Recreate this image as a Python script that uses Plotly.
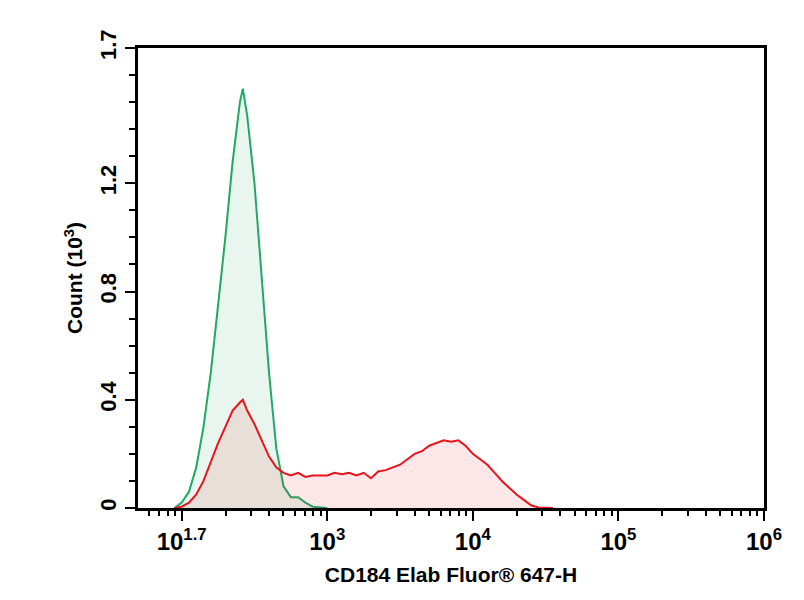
import math
import plotly.graph_objects as go

# Histogram data, x in log10 units
green_x = [1.95, 2.0, 2.05, 2.1, 2.15, 2.2, 2.25, 2.3, 2.35, 2.4, 2.42, 2.45, 2.5, 2.55, 2.6,
           2.65, 2.7, 2.75, 2.8, 2.85, 2.9, 3.0]
green_y = [0, 0.02, 0.06, 0.15, 0.3, 0.5, 0.75, 1.0, 1.28, 1.5, 1.55, 1.45, 1.2, 0.85, 0.5,
           0.22, 0.08, 0.04, 0.04, 0.02, 0.005, 0]

red_x = [1.95, 2.0, 2.05, 2.1, 2.15, 2.2, 2.25, 2.3, 2.35, 2.4, 2.42, 2.45, 2.5, 2.55, 2.6,
         2.65, 2.7, 2.75, 2.8, 2.85, 2.9, 2.95, 3.0, 3.05, 3.1, 3.15, 3.2, 3.25, 3.3, 3.35,
         3.4, 3.45, 3.5, 3.55, 3.6, 3.65, 3.7, 3.75, 3.8, 3.85, 3.9, 3.95, 4.0, 4.05, 4.1,
         4.15, 4.2, 4.25, 4.3, 4.35, 4.4, 4.45, 4.55]
red_y = [0, 0.005, 0.02, 0.05, 0.1, 0.17, 0.24, 0.3, 0.36, 0.39, 0.40, 0.36, 0.31, 0.25, 0.19,
         0.15, 0.13, 0.12, 0.13, 0.115, 0.12, 0.12, 0.12, 0.13, 0.125, 0.13, 0.12, 0.13, 0.11, 0.135,
         0.14, 0.15, 0.16, 0.18, 0.2, 0.21, 0.23, 0.24, 0.25, 0.245, 0.25, 0.23, 0.2, 0.18, 0.16,
         0.13, 0.1, 0.075, 0.05, 0.03, 0.01, 0.002, 0]

x_ticks = [2, 3, 4, 5, 6]
x_labels = ['<b>10<sup>1.7</sup></b>', '<b>10<sup>3</sup></b>', '<b>10<sup>4</sup></b>',
            '<b>10<sup>5</sup></b>', '<b>10<sup>6</sup></b>']
y_ticks = [0, 0.4, 0.8, 1.2, 1.7]
y_labels = ['<b>0</b>', '<b>0.4</b>', '<b>0.8</b>', '<b>1.2</b>', '<b>1.7</b>']

minor_x = []
for d in range(1, 6):
    for m in range(2, 10):
        v = d + math.log10(m)
        if 1.7 <= v <= 6:
            minor_x.append(v)

fig = go.Figure()
fig.add_trace(go.Scatter(x=green_x, y=green_y, mode='lines', fill='tozeroy',
                         line=dict(color='#22a865', width=2), fillcolor='rgba(34,168,101,0.10)'))
fig.add_trace(go.Scatter(x=red_x, y=red_y, mode='lines', fill='tozeroy',
                         line=dict(color='#e8141c', width=2), fillcolor='rgba(232,20,28,0.10)'))

fig.update_layout(
    width=804, height=600,
    margin=dict(l=130, r=48, t=40, b=100),
    plot_bgcolor='white', paper_bgcolor='white',
    showlegend=False,
    font=dict(family='Liberation Sans', size=22, color='black'),
    xaxis=dict(range=[1.7, 6], tickvals=x_ticks, ticktext=x_labels, showgrid=False, zeroline=False,
               showline=True, linecolor='black', linewidth=3, mirror=True,
               ticks='outside', ticklen=10, tickwidth=2, tickcolor='black',
               minor=dict(tickvals=minor_x, ticks='outside', ticklen=5, tickwidth=2, tickcolor='black'),
               title=dict(text='<b>CD184 Elab Fluor® 647-H</b>', font=dict(size=21), standoff=14),
               tickfont=dict(size=24)),
    yaxis=dict(range=[0, 1.7], tickvals=y_ticks, ticktext=y_labels, tickangle=-90, showgrid=False,
               zeroline=False, showline=True, linecolor='black', linewidth=3, mirror=True,
               ticks='outside', ticklen=10, tickwidth=2, tickcolor='black',
               minor=dict(dtick=0.1, ticks='outside', ticklen=6, tickwidth=2, tickcolor='black'),
               title=dict(text='<b>Count (10<sup>3</sup>)</b>', font=dict(size=21), standoff=8),
               tickfont=dict(size=22)),
)

fig.write_html('out.html')
